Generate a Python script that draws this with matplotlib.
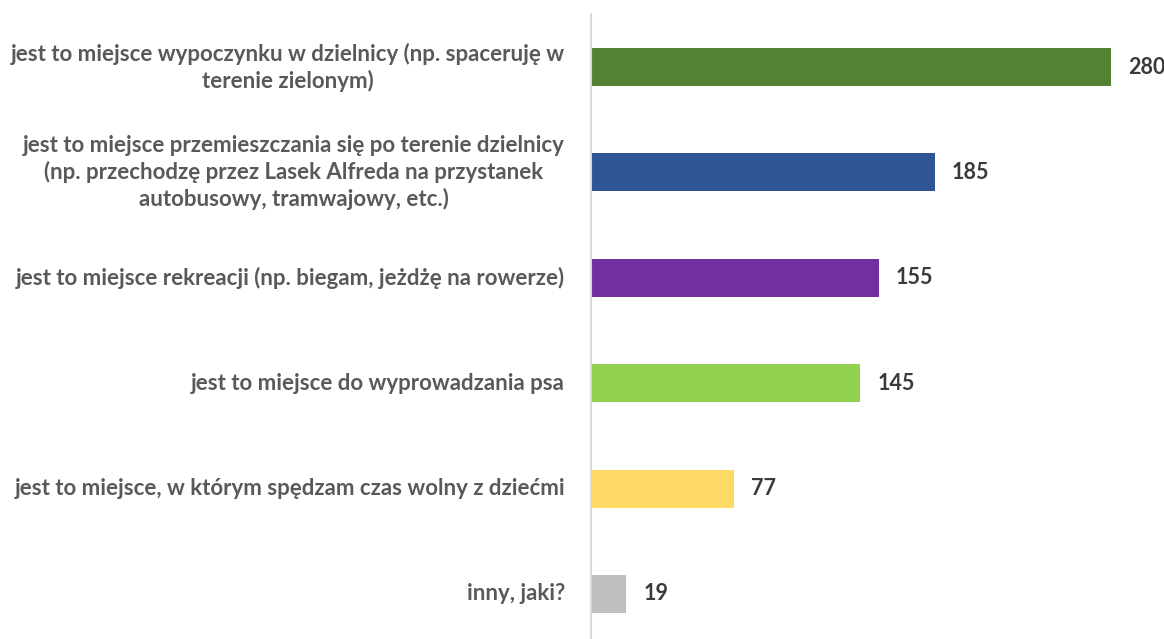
import matplotlib
matplotlib.use("Agg")
import matplotlib.pyplot as plt

categories = [
    "jest to miejsce wypoczynku w dzielnicy (np. spaceruję w\nterenie zielonym)",
    "jest to miejsce przemieszczania się po terenie dzielnicy\n(np. przechodzę przez Lasek Alfreda na przystanek\nautobusowy, tramwajowy, etc.)",
    "jest to miejsce rekreacji (np. biegam, jeżdżę na rowerze)",
    "jest to miejsce do wyprowadzania psa",
    "jest to miejsce, w którym spędzam czas wolny z dziećmi",
    "inny, jaki?",
]
values = [280, 185, 155, 145, 77, 19]
colors = ["#548235", "#2F5597", "#7030A0", "#92D050", "#FFD966", "#BFBFBF"]

W, H = 1164, 639
fig = plt.figure(figsize=(W / 100, H / 100), dpi=100)
left = 591 / W
top_px, bot_px = 14.3, 646.7
ax = fig.add_axes([left, 1 - bot_px / H, 1 - left, (bot_px - top_px) / H])

y = list(range(len(values)))
ax.barh(y, values, height=0.36, color=colors, zorder=2)
ax.set_ylim(len(values) - 0.5, -0.5)
ax.set_xlim(0, (W - 591) / ((1111 - 591) / 280))

for s in ["top", "right", "bottom"]:
    ax.spines[s].set_visible(False)
ax.spines["left"].set_color("#D9D9D9")
ax.spines["left"].set_linewidth(1.5)
ax.set_xticks([])
ax.set_yticks([])

font = "Lato"
for yi, (cat, v) in enumerate(zip(categories, values)):
    ax.text(-26 / 1.857, yi, cat, ha="right", va="center", multialignment="center",
            fontsize=16, fontweight="bold", color="#595959", family=font,
            linespacing=1.27)
    ax.text(v + 17 / 1.857, yi, str(v), ha="left", va="center",
            fontsize=15.5, fontweight="bold", color="#3A3A3A", family=font)

fig.savefig("out.png", dpi=100)
